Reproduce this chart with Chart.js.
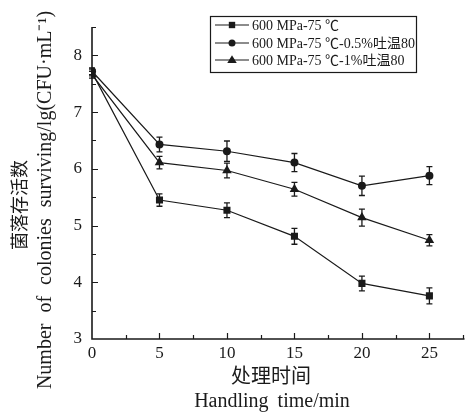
<!DOCTYPE html>
<html><head><meta charset="utf-8">
<script src="https://cdn.jsdelivr.net/npm/chart.js@4/dist/chart.umd.min.js"></script>
<style>html,body{margin:0;padding:0;background:#fff}</style>
</head><body>
<canvas id="c" width="470" height="417" style="display:block;width:470px;height:417px"></canvas>
<script>
// ---- data ----
const times = [0, 5, 10, 15, 20, 25];
const xTickValues = [0, 5, 10, 15, 20, 25];
const yTickValues = [3, 4, 5, 6, 7, 8];
const seriesNames = ['600 MPa-75 ℃', '600 MPa-75 ℃-0.5%吐温80', '600 MPa-75 ℃-1%吐温80'];
const valuesA = [7.70, 5.45, 5.27, 4.81, 3.98, 3.76];
const errorsA = [0.06, 0.11, 0.13, 0.14, 0.13, 0.14];
const valuesB = [7.72, 6.43, 6.31, 6.11, 5.70, 5.88];
const errorsB = [0.06, 0.13, 0.18, 0.16, 0.17, 0.16];
const valuesC = [7.66, 6.11, 5.97, 5.64, 5.14, 4.74];
const errorsC = [0.06, 0.11, 0.13, 0.12, 0.15, 0.10];
const xTitle = ['处理时间', 'Handling time/min'];
const yTitle = ['菌落存活数', 'Number of colonies surviving/lg(CFU·mL⁻¹)'];

const styles = ['rect', 'circle', 'triangle'];
const radii = [5, 4, 5.5];
const allValues = [valuesA, valuesB, valuesC];
const allErrors = [errorsA, errorsB, errorsC];
const INK = '#1a1a1a';
const SERIF = "'Liberation Serif', 'Noto Sans CJK SC', serif";

const datasets = allValues.map((vals, i) => ({
  label: seriesNames[i],
  data: vals.map((v, j) => ({x: times[j], y: v})),
  borderColor: INK, backgroundColor: INK, borderWidth: 1.2,
  pointStyle: styles[i], pointRadius: radii[i], pointBackgroundColor: INK,
  pointBorderColor: INK, pointBorderWidth: 0, tension: 0
}));

function drawMarker(ctx, style, r, x, y) {
  ctx.beginPath();
  if (style === 'rect') { const s = Math.SQRT1_2 * r; ctx.rect(x - s, y - s, 2 * s, 2 * s); }
  else if (style === 'circle') { ctx.arc(x, y, r, 0, Math.PI * 2); }
  else { ctx.moveTo(x, y - r * 0.95); ctx.lineTo(x + r * 0.95, y + r * 0.6); ctx.lineTo(x - r * 0.95, y + r * 0.6); ctx.closePath(); }
  ctx.fill();
}

const decor = {
  id: 'decor',
  beforeDatasetsDraw(chart) {
    const ctx = chart.ctx, xs = chart.scales.x, ys = chart.scales.y;
    ctx.save();
    ctx.strokeStyle = INK; ctx.lineWidth = 1.3;
    allValues.forEach((vals, i) => {
      vals.forEach((v, j) => {
        const e = allErrors[i][j];
        const x = xs.getPixelForValue(times[j]);
        const y1 = ys.getPixelForValue(v + e), y2 = ys.getPixelForValue(v - e);
        ctx.beginPath();
        ctx.moveTo(x, y1); ctx.lineTo(x, y2);
        ctx.moveTo(x - 3, y1); ctx.lineTo(x + 3, y1);
        ctx.moveTo(x - 3, y2); ctx.lineTo(x + 3, y2);
        ctx.stroke();
      });
    });
    ctx.restore();
  },
  afterDraw(chart) {
    const ctx = chart.ctx, xs = chart.scales.x, ys = chart.scales.y, a = chart.chartArea;
    ctx.save();
    ctx.strokeStyle = INK; ctx.lineWidth = 1.6;
    ctx.beginPath();
    ctx.moveTo(a.left, a.top); ctx.lineTo(a.left, a.bottom); ctx.lineTo(a.right, a.bottom);
    ctx.stroke();
    ctx.lineWidth = 1.2;
    ctx.beginPath();
    for (let v = ys.min + 0.5; v <= ys.max + 1e-9; v += 0.5) {
      const y = Math.round(ys.getPixelForValue(v)) + 0.5;
      const len = Number.isInteger(v) ? 6 : 4;
      ctx.moveTo(a.left, y); ctx.lineTo(a.left + len, y);
    }
    for (let v = 2.5; v <= xs.max + 1e-9; v += 2.5) {
      const x = Math.round(xs.getPixelForValue(v)) + 0.5;
      const len = (v % 5 === 0) ? 6 : 4;
      ctx.moveTo(x, a.bottom); ctx.lineTo(x, a.bottom - len);
    }
    ctx.stroke();
    // titles
    ctx.fillStyle = INK; ctx.textAlign = 'center'; ctx.textBaseline = 'middle';
    ctx.font = "20px 'Noto Sans CJK SC'";
    ctx.fillText(xTitle[0], 271, 375);
    ctx.font = "20px " + SERIF;
    ctx.wordSpacing = '4px';
    ctx.fillText(xTitle[1], 272, 402);
    ctx.save();
    ctx.translate(19, 205); ctx.rotate(-Math.PI / 2);
    ctx.wordSpacing = '0px';
    ctx.font = "18px 'Noto Sans CJK SC'";
    ctx.fillText(yTitle[0], 0, 0);
    ctx.restore();
    ctx.save();
    ctx.translate(46, 200); ctx.rotate(-Math.PI / 2);
    ctx.font = "20px " + SERIF;
    ctx.wordSpacing = '6px';
    ctx.fillText(yTitle[1], 0, 0);
    ctx.restore();
    ctx.wordSpacing = '0px';
    // legend
    ctx.lineWidth = 1.2;
    ctx.strokeRect(210.5, 16.5, 206, 56);
    const rows = [25, 43, 60];
    ctx.textAlign = 'left';
    ctx.font = "14px " + SERIF;
    seriesNames.forEach((name, i) => {
      const y = rows[i];
      ctx.beginPath(); ctx.moveTo(215, y); ctx.lineTo(249, y); ctx.stroke();
      drawMarker(ctx, styles[i], radii[i] - 0.5, 232, y);
      ctx.fillText(name, 252, y + 1);
    });
    ctx.restore();
  }
};

new Chart(document.getElementById('c'), {
  type: 'line',
  data: {datasets},
  options: {
    responsive: false, animation: false, devicePixelRatio: 1,
    layout: {padding: {top: 27, right: 0, left: 0, bottom: 0}},
    plugins: {legend: {display: false}, tooltip: {enabled: false}},
    scales: {
      x: {
        type: 'linear', min: 0, max: 27.6,
        grid: {display: false, drawTicks: false}, border: {display: false},
        ticks: {padding: 4, color: INK, font: {family: SERIF, size: 17}, autoSkip: false, maxRotation: 0},
        afterBuildTicks: s => { s.ticks = xTickValues.map(v => ({value: v})); },
        afterFit: s => { s.height = 78; }
      },
      y: {
        min: 3, max: 8.5,
        grid: {display: false, drawTicks: false}, border: {display: false},
        ticks: {padding: 10, color: INK, font: {family: SERIF, size: 17}, autoSkip: false},
        afterBuildTicks: s => { s.ticks = yTickValues.map(v => ({value: v})); },
        afterFit: s => { s.width = 92; }
      }
    }
  },
  plugins: [decor]
});
</script>
</body></html>
